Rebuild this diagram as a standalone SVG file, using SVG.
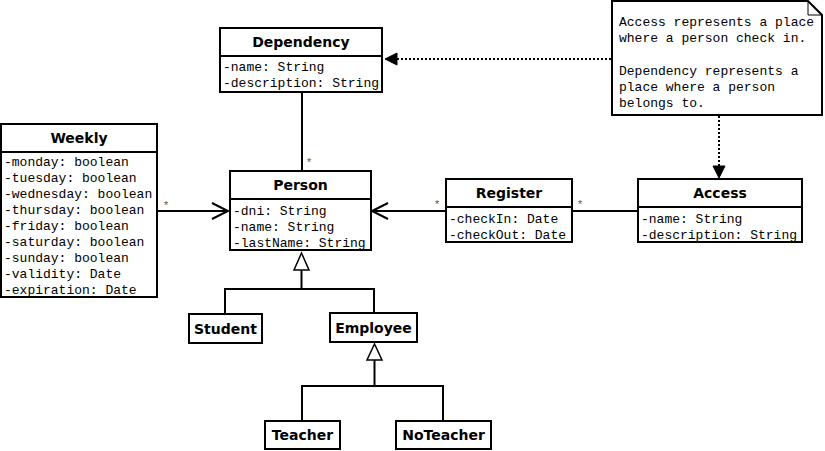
<svg xmlns="http://www.w3.org/2000/svg" width="825" height="451" viewBox="0 0 825 451">
<style>
.box{fill:#fff;stroke:#000;stroke-width:2}
.div{stroke:#000;stroke-width:2}
.t{font-family:"DejaVu Sans",sans-serif;font-weight:bold;font-size:14px;text-anchor:middle;fill:#000}
.a{font-family:"Liberation Mono",monospace;font-size:13px;fill:#000}
.ln{fill:none;stroke:#000;stroke-width:2}
.dot{fill:none;stroke:#000;stroke-width:2;stroke-dasharray:2,2}
.star{font-family:"Liberation Mono",monospace;font-size:11px;fill:#555;text-anchor:middle}
</style>
<rect width="825" height="451" fill="#fff"/>
<g id="connectors">
  <line class="ln" x1="302" y1="92" x2="302" y2="171"/>
  <text class="star" x="309" y="166">*</text>
  <line class="ln" x1="157" y1="211" x2="228" y2="211"/>
  <polyline class="ln" points="212,203 228,211 212,219"/>
  <text class="star" x="166" y="209">*</text>
  <line class="ln" x1="446" y1="211" x2="372" y2="211"/>
  <polyline class="ln" points="388,203 372,211 388,219"/>
  <text class="star" x="437" y="208">*</text>
  <line class="ln" x1="572" y1="211" x2="638" y2="211"/>
  <text class="star" x="580" y="208">*</text>
  <line class="dot" x1="611" y1="59" x2="396" y2="59"/>
  <polygon points="385,59 397,53 397,65" fill="#000" stroke="#000" stroke-width="1"/>
  <line class="dot" x1="719" y1="116" x2="719" y2="166"/>
  <polygon points="719,178 713,166 725,166" fill="#000" stroke="#000" stroke-width="1"/>
  <polyline class="ln" points="225,314 225,289 374,289 374,313"/>
  <line class="ln" x1="301.5" y1="270" x2="301.5" y2="289"/>
  <polygon points="301.5,253 294,270 309,270" fill="#fff" stroke="#000" stroke-width="1.5"/>
  <polyline class="ln" points="302,421 302,386 443,386 443,421"/>
  <line class="ln" x1="374.5" y1="360" x2="374.5" y2="386"/>
  <polygon points="374.5,344 367,360 382,360" fill="#fff" stroke="#000" stroke-width="1.5"/>
</g>
<g id="dependency">
  <rect class="box" x="220" y="28" width="162" height="64"/>
  <line class="div" x1="220" y1="56" x2="382" y2="56"/>
  <text class="t" x="301" y="47">Dependency</text>
  <text class="a" x="223" y="71">-name: String</text>
  <text class="a" x="223" y="87">-description: String</text>
</g>
<g id="weekly">
  <rect class="box" x="1" y="124" width="156" height="173"/>
  <line class="div" x1="1" y1="152" x2="157" y2="152"/>
  <text class="t" x="79" y="143">Weekly</text>
  <text class="a" x="4" y="166">-monday: boolean</text>
  <text class="a" x="4" y="182">-tuesday: boolean</text>
  <text class="a" x="4" y="198">-wednesday: boolean</text>
  <text class="a" x="4" y="214">-thursday: boolean</text>
  <text class="a" x="4" y="230">-friday: boolean</text>
  <text class="a" x="4" y="246">-saturday: boolean</text>
  <text class="a" x="4" y="262">-sunday: boolean</text>
  <text class="a" x="4" y="278">-validity: Date</text>
  <text class="a" x="4" y="294">-expiration: Date</text>
</g>
<g id="person">
  <rect class="box" x="230" y="171" width="141" height="79"/>
  <line class="div" x1="230" y1="199" x2="371" y2="199"/>
  <text class="t" x="300.5" y="190">Person</text>
  <text class="a" x="233" y="215">-dni: String</text>
  <text class="a" x="233" y="231">-name: String</text>
  <text class="a" x="233" y="247">-lastName: String</text>
</g>
<g id="register">
  <rect class="box" x="446" y="179" width="126" height="63"/>
  <line class="div" x1="446" y1="207" x2="572" y2="207"/>
  <text class="t" x="509" y="198">Register</text>
  <text class="a" x="449" y="223">-checkIn: Date</text>
  <text class="a" x="449" y="239">-checkOut: Date</text>
</g>
<g id="access">
  <rect class="box" x="638" y="179" width="164" height="63"/>
  <line class="div" x1="638" y1="207" x2="802" y2="207"/>
  <text class="t" x="720" y="198">Access</text>
  <text class="a" x="641" y="223">-name: String</text>
  <text class="a" x="641" y="239">-description: String</text>
</g>
<g id="note">
  <path d="M612,1 H808 L822,15 V115 H612 Z" fill="#fff" stroke="#000" stroke-width="2"/>
  <path d="M808,1 V15 H822" fill="none" stroke="#000" stroke-width="1"/>
  <text class="a" x="619" y="26">Access represents a place</text>
  <text class="a" x="619" y="42">where a person check in.</text>
  <text class="a" x="619" y="75">Dependency represents a</text>
  <text class="a" x="619" y="91">place where a person</text>
  <text class="a" x="619" y="107">belongs to.</text>
</g>
<g id="student">
  <rect class="box" x="189" y="314" width="73" height="29"/>
  <text class="t" x="225.5" y="334">Student</text>
</g>
<g id="employee">
  <rect class="box" x="330" y="313" width="87" height="29"/>
  <text class="t" x="373.5" y="333">Employee</text>
</g>
<g id="teacher">
  <rect class="box" x="265" y="421" width="75" height="28"/>
  <text class="t" x="302.5" y="440">Teacher</text>
</g>
<g id="noteacher">
  <rect class="box" x="396" y="421" width="95" height="28"/>
  <text class="t" x="443.5" y="440">NoTeacher</text>
</g>
</svg>
